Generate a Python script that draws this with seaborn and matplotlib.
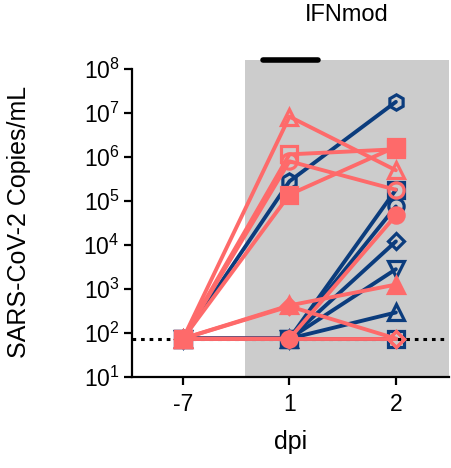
import matplotlib
matplotlib.use("Agg")
import matplotlib.pyplot as plt
import seaborn as sns
import pandas as pd
import numpy as np
from matplotlib.ticker import LogFormatterSciNotation, NullLocator

sns.set_theme(style="white")
plt.rcParams["font.family"] = ["Liberation Sans", "DejaVu Sans"]
plt.rcParams["mathtext.default"] = "regular"

# days post infection (categorical axis) and the limit of detection
dpi_labels = ["-7", "1", "2"]
lod = 74

# navy group: open markers
navy_markers = ["h", "s", "o", "D", "v", "^", "s"]
navy_values = [
    [lod, 2.8e5, 1.8e7],
    [lod, lod, 1.8e5],
    [lod, lod, 7.5e4],
    [lod, lod, 1.2e4],
    [lod, lod, 2.8e3],
    [lod, lod, 290],
    [lod, lod, lod],
]

# salmon group: mixed open / filled markers
salmon_markers = ["^", "s", "s", "o", "o", "^", "D", "D"]
salmon_filled = [False, False, True, False, True, True, False, False]
salmon_values = [
    [lod, 8.3e6, 5.0e5],
    [lod, 1.15e6, 1.5e6],
    [lod, 1.4e5, 1.7e6],
    [lod, 8.0e5, 1.8e5],
    [lod, lod, 4.7e4],
    [lod, 420, 1.25e3],
    [lod, 400, lod],
    [lod, lod, lod],
]

NAVY = "#0b3c7d"
SALMON = "#fe6a6a"
GREY = "#cccccc"

fig = plt.figure(figsize=(4.51, 4.68), dpi=100)
ax = fig.add_axes([0.2927, 0.195, 0.703, 0.677])

xpos = np.arange(len(dpi_labels))
ymin, ymax = 10, 10 ** 8.21

# treatment window shading and the dosing bar
ax.axvspan(0.58, 2.5, color=GREY, lw=0, zorder=0)
ax.plot([0.75, 1.27], [ymax, ymax], color="black", lw=4,
        solid_capstyle="round", clip_on=False, zorder=5)

# limit of detection
ax.axhline(lod, color="black", ls=(0, (1.2, 1.6)), lw=2.2, zorder=1)


def draw(values, marker, color, filled, z):
    df = pd.DataFrame({"x": xpos, "y": values})
    sns.lineplot(data=df, x="x", y="y", ax=ax, color=color, lw=2.8,
                 marker=marker, markersize=11 if marker != "D" else 8.5,
                 markeredgewidth=2.3, markeredgecolor=color,
                 markerfacecolor=color if filled else "none",
                 zorder=z, clip_on=False)


for vals, m in zip(navy_values, navy_markers):
    draw(vals, m, NAVY, False, 3)
for vals, m, f in zip(salmon_values, salmon_markers, salmon_filled):
    draw(vals, m, SALMON, f, 4)

ax.set_yscale("log")
ax.set_ylim(ymin, ymax)
ax.set_xlim(-0.48, 2.5)
ax.set_yticks([10 ** k for k in range(1, 9)])
ax.yaxis.set_major_formatter(LogFormatterSciNotation())
ax.yaxis.set_minor_locator(NullLocator())
ax.set_xticks(xpos)
ax.set_xticklabels(dpi_labels)

for s in ["top", "right"]:
    ax.spines[s].set_visible(False)
for s in ["left", "bottom"]:
    ax.spines[s].set_color("black")
    ax.spines[s].set_linewidth(1.6)
ax.spines["left"].set_bounds(10, 1e8)

ax.tick_params(axis="both", which="major", direction="out", length=6,
               width=1.6, color="black", labelsize=16.5, labelcolor="black",
               left=True, bottom=True, pad=3)
ax.tick_params(axis="x", pad=6)

ax.set_xlabel("dpi", fontsize=18, color="black")
ax.set_ylabel("SARS-CoV-2 Copies/mL", fontsize=18, color="black")
ax.xaxis.set_label_coords(0.5, -0.168)
ax.yaxis.set_label_coords(-0.318, 0.488)

ax.text(1.54, 1.142, "IFNmod", transform=ax.get_xaxis_transform(),
        ha="center", va="center", fontsize=17, color="black")

fig.savefig("out.png", dpi=100)
